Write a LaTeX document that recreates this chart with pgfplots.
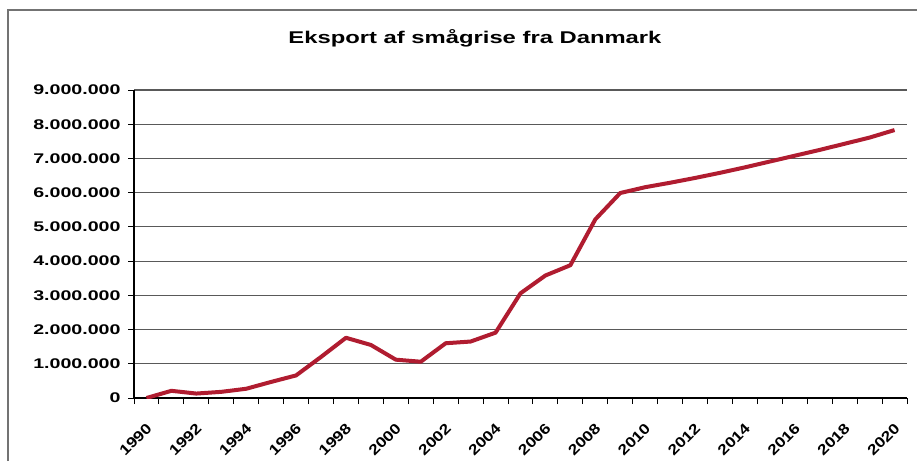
\documentclass[border=0pt]{standalone}
\usepackage{fontspec}
\setmainfont[FakeStretch=1.4]{Liberation Sans}
\newfontfamily\xlabfont[FakeStretch=1.2]{Liberation Sans}
\usepackage{pgfplots}
\pgfplotsset{compat=1.18}
\definecolor{serie}{RGB}{176,28,48}
\definecolor{gridc}{gray}{0.35}
\definecolor{framec}{gray}{0.45}

\begin{document}
\begin{tikzpicture}[x=1pt,y=1pt]
\useasboundingbox (0,0) rectangle (917,461);
\draw[framec, line width=1.5pt] (8,0) -- (8,451) -- (917,451);
\node[font=\fontsize{17}{20}\selectfont\bfseries] at (475,423) {Eksport af smågrise fra Danmark};

\begin{axis}[
  at={(134pt,63pt)}, anchor=south west,
  scale only axis, width=773pt, height=308pt,
  xmin=1989.5, xmax=2020.5,
  ymin=0, ymax=9000000,
  axis x line*=bottom, axis y line*=left,
  axis line style={draw=black, line width=1.1pt},
  xtick={1990,1992,...,2020},
  minor xtick={1989.5,1990.5,...,2020.5},
  every major x tick/.style={draw=none},
  ytick={0,1000000,...,9000000},
  scaled y ticks=false,
  tick align=outside, major tick length=6pt, minor tick length=6pt,
  tick style={draw=black, line width=1pt},
  ymajorgrids, grid style={draw=gridc, line width=1.1pt},
  /pgf/number format/assume math mode=true,
  yticklabel style={/pgf/number format/fixed, /pgf/number format/precision=0, /pgf/number format/1000 sep={.}, font=\fontsize{14}{16}\selectfont\bfseries, xshift=-4pt},
  xticklabel style={/pgf/number format/1000 sep={}, xshift=-1pt, yshift=-18pt, rotate=45, anchor=north east, inner sep=0pt, font=\fontsize{14.5}{17}\selectfont\xlabfont\bfseries},
]
\addplot[serie, line width=4pt, line join=round, no marks] coordinates {
(1990,0) (1991,210000) (1992,130000) (1993,180000) (1994,270000)
(1995,470000) (1996,660000) (1997,1200000) (1998,1760000) (1999,1550000)
(2000,1120000) (2001,1060000) (2002,1600000) (2003,1650000) (2004,1910000)
(2005,3060000) (2006,3580000) (2007,3880000) (2008,5220000) (2009,5990000)
(2010,6160000) (2011,6290000) (2012,6430000) (2013,6580000) (2014,6740000)
(2015,6910000) (2016,7080000) (2017,7250000) (2018,7430000) (2019,7610000)
(2020,7830000)
};
\end{axis}
\end{tikzpicture}
\end{document}
